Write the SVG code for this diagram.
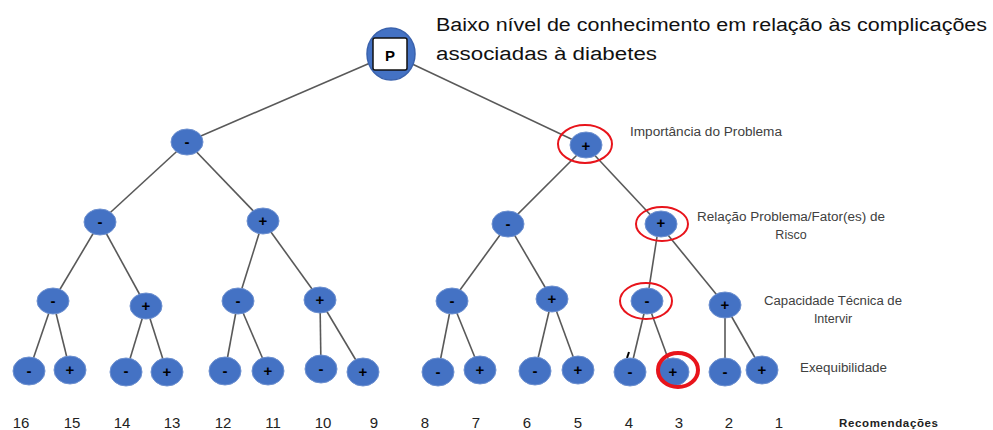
<svg xmlns="http://www.w3.org/2000/svg" width="993" height="430" viewBox="0 0 993 430">
<style>
.e{stroke:#595959;stroke-width:1.6;fill:none}
.n{fill:#4472C4;stroke:#6d90d0;stroke-width:1}
.s{font-family:"Liberation Sans",Arial,sans-serif;font-weight:bold;font-size:15px;fill:#000;text-anchor:middle;dominant-baseline:central}
.lab{font-family:"Liberation Sans",Arial,sans-serif;font-size:12.5px;fill:#404040}
.num{font-family:"Liberation Sans",Arial,sans-serif;font-size:15px;fill:#222;text-anchor:middle}
.red{fill:none;stroke:#e8141b;stroke-width:2}
.title{font-family:"Liberation Sans",Arial,sans-serif;font-size:18px;fill:#111}
</style>
<rect width="993" height="430" fill="#fff"/>
<g id="connectors">
<line class="e" x1="391" y1="54" x2="187" y2="142"/>
<line class="e" x1="391" y1="54" x2="586" y2="146"/>
<line class="e" x1="187" y1="142" x2="100" y2="222"/>
<line class="e" x1="187" y1="142" x2="263" y2="221"/>
<line class="e" x1="586" y1="146" x2="508" y2="224"/>
<line class="e" x1="586" y1="146" x2="659" y2="224"/>
<line class="e" x1="100" y1="222" x2="53" y2="301"/>
<line class="e" x1="100" y1="222" x2="146" y2="306"/>
<line class="e" x1="263" y1="221" x2="238" y2="301"/>
<line class="e" x1="263" y1="221" x2="320" y2="300"/>
<line class="e" x1="508" y1="224" x2="452" y2="301"/>
<line class="e" x1="508" y1="224" x2="552" y2="299"/>
<line class="e" x1="659" y1="224" x2="647" y2="301"/>
<line class="e" x1="659" y1="224" x2="725" y2="305"/>
<line class="e" x1="53" y1="301" x2="29" y2="371"/>
<line class="e" x1="53" y1="301" x2="70" y2="370"/>
<line class="e" x1="146" y1="306" x2="126" y2="372"/>
<line class="e" x1="146" y1="306" x2="167" y2="372"/>
<line class="e" x1="238" y1="301" x2="225" y2="371"/>
<line class="e" x1="238" y1="301" x2="268" y2="371"/>
<line class="e" x1="320" y1="300" x2="321" y2="369"/>
<line class="e" x1="320" y1="300" x2="363" y2="372"/>
<line class="e" x1="452" y1="301" x2="438" y2="372"/>
<line class="e" x1="452" y1="301" x2="480" y2="370"/>
<line class="e" x1="552" y1="299" x2="535" y2="371"/>
<line class="e" x1="552" y1="299" x2="578" y2="370"/>
<line class="e" x1="647" y1="301" x2="630" y2="372"/>
<line class="e" x1="647" y1="301" x2="673" y2="372"/>
<line class="e" x1="725" y1="305" x2="725" y2="372"/>
<line class="e" x1="725" y1="305" x2="762" y2="370"/>
<line x1="629" y1="352" x2="627" y2="358" stroke="#000" stroke-width="2"/>
</g>
<g id="root">
<ellipse cx="391" cy="54" rx="24" ry="26" fill="#4472C4" stroke="#3a62ad" stroke-width="1.5"/>
<rect x="373" y="38" width="34" height="32" rx="2" fill="#fff" stroke="#111" stroke-width="1.5"/>
<text x="390" y="55" class="s" font-size="16">P</text>
</g>
<g id="title">
<text class="title" x="436" y="31" textLength="551" lengthAdjust="spacingAndGlyphs">Baixo nível de conhecimento em relação às complicações</text>
<text class="title" x="436" y="60" textLength="221" lengthAdjust="spacingAndGlyphs">associadas à diabetes</text>
</g>
<g id="n1a"><ellipse class="n" cx="187" cy="142" rx="16" ry="13"/><text class="s" x="187" y="141">-</text></g>
<g id="n1b"><ellipse class="n" cx="586" cy="145" rx="16" ry="13"/><text class="s" x="586" y="145">+</text><ellipse class="red" cx="585" cy="144" rx="27" ry="19"/></g>
<g id="n2a"><ellipse class="n" cx="100" cy="222" rx="16" ry="13"/><text class="s" x="100" y="221">-</text></g>
<g id="n2b"><ellipse class="n" cx="263" cy="221" rx="16" ry="13"/><text class="s" x="263" y="220">+</text></g>
<g id="n2c"><ellipse class="n" cx="508" cy="224" rx="16" ry="13"/><text class="s" x="508" y="223">-</text></g>
<g id="n2d"><ellipse class="n" cx="661" cy="224" rx="16" ry="13"/><text class="s" x="661" y="222">+</text><ellipse class="red" cx="662" cy="224" rx="26" ry="17"/></g>
<g id="n3a"><ellipse class="n" cx="53" cy="301" rx="16" ry="13"/><text class="s" x="53" y="300">-</text></g>
<g id="n3b"><ellipse class="n" cx="146" cy="306" rx="16" ry="13"/><text class="s" x="146" y="305">+</text></g>
<g id="n3c"><ellipse class="n" cx="238" cy="301" rx="16" ry="13"/><text class="s" x="238" y="300">-</text></g>
<g id="n3d"><ellipse class="n" cx="320" cy="300" rx="16" ry="13"/><text class="s" x="320" y="299">+</text></g>
<g id="n3e"><ellipse class="n" cx="452" cy="301" rx="16" ry="13"/><text class="s" x="452" y="300">-</text></g>
<g id="n3f"><ellipse class="n" cx="552" cy="299" rx="16" ry="13"/><text class="s" x="552" y="298">+</text></g>
<g id="n3g"><ellipse class="n" cx="647" cy="301" rx="16" ry="13"/><text class="s" x="647" y="300">-</text><ellipse class="red" cx="646" cy="301" rx="26" ry="18"/></g>
<g id="n3h"><ellipse class="n" cx="725" cy="305" rx="16" ry="13"/><text class="s" x="725" y="304">+</text></g>
<g id="l16"><ellipse class="n" cx="29" cy="371" rx="16" ry="14"/><text class="s" x="29" y="370">-</text></g>
<g id="l15"><ellipse class="n" cx="70" cy="370" rx="16" ry="14"/><text class="s" x="70" y="369">+</text></g>
<g id="l14"><ellipse class="n" cx="126" cy="372" rx="16" ry="14"/><text class="s" x="126" y="370">-</text></g>
<g id="l13"><ellipse class="n" cx="167" cy="372" rx="16" ry="14"/><text class="s" x="167" y="371">+</text></g>
<g id="l12"><ellipse class="n" cx="225" cy="371" rx="16" ry="14"/><text class="s" x="225" y="370">-</text></g>
<g id="l11"><ellipse class="n" cx="268" cy="371" rx="16" ry="14"/><text class="s" x="268" y="370">+</text></g>
<g id="l10"><ellipse class="n" cx="321" cy="369" rx="16" ry="14"/><text class="s" x="321" y="368">-</text></g>
<g id="l9"><ellipse class="n" cx="363" cy="372" rx="16" ry="14"/><text class="s" x="363" y="371">+</text></g>
<g id="l8"><ellipse class="n" cx="438" cy="372" rx="16" ry="14"/><text class="s" x="438" y="371">-</text></g>
<g id="l7"><ellipse class="n" cx="480" cy="370" rx="16" ry="14"/><text class="s" x="480" y="369">+</text></g>
<g id="l6"><ellipse class="n" cx="535" cy="371" rx="16" ry="14"/><text class="s" x="535" y="370">-</text></g>
<g id="l5"><ellipse class="n" cx="578" cy="370" rx="16" ry="14"/><text class="s" x="578" y="369">+</text></g>
<g id="l4"><ellipse class="n" cx="630" cy="372" rx="16" ry="14"/><text class="s" x="630" y="371">-</text></g>
<g id="l3"><ellipse class="n" cx="673" cy="372" rx="16" ry="14"/><text class="s" x="673" y="371">+</text><ellipse cx="678" cy="370" rx="20" ry="17" fill="none" stroke="#e8141b" stroke-width="4"/></g>
<g id="l2"><ellipse class="n" cx="725" cy="372" rx="16" ry="14"/><text class="s" x="725" y="371">-</text></g>
<g id="l1"><ellipse class="n" cx="762" cy="370" rx="16" ry="14"/><text class="s" x="762" y="369">+</text></g>
<g id="labels">
<text class="lab" x="630" y="136" textLength="152" lengthAdjust="spacingAndGlyphs">Importância do Problema</text>
<text class="lab" x="697" y="221" textLength="188" lengthAdjust="spacingAndGlyphs">Relação Problema/Fator(es) de</text>
<text class="lab" x="791" y="239" text-anchor="middle">Risco</text>
<text class="lab" x="764" y="305" textLength="138" lengthAdjust="spacingAndGlyphs">Capacidade Técnica de</text>
<text class="lab" x="833" y="323" text-anchor="middle">Intervir</text>
<text class="lab" x="800" y="372" textLength="87" lengthAdjust="spacingAndGlyphs">Exequibilidade</text>
</g>
<g id="recomendacoes">
<text class="num" x="21" y="428">16</text>
<text class="num" x="72" y="428">15</text>
<text class="num" x="122" y="428">14</text>
<text class="num" x="172" y="428">13</text>
<text class="num" x="223" y="428">12</text>
<text class="num" x="273" y="428">11</text>
<text class="num" x="323" y="428">10</text>
<text class="num" x="374" y="428">9</text>
<text class="num" x="425" y="428">8</text>
<text class="num" x="476" y="428">7</text>
<text class="num" x="527" y="428">6</text>
<text class="num" x="578" y="428">5</text>
<text class="num" x="629" y="428">4</text>
<text class="num" x="679" y="428">3</text>
<text class="num" x="729" y="428">2</text>
<text class="num" x="779" y="428">1</text>
<text x="839" y="427" font-family="'Liberation Sans',Arial,sans-serif" font-size="11.5px" font-weight="bold" fill="#222" textLength="99">Recomendações</text>
</g>
</svg>
